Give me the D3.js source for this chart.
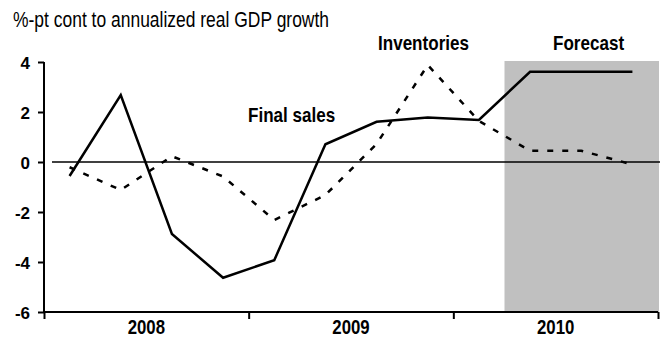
<!DOCTYPE html>
<html>
<head>
<meta charset="utf-8">
<script src="https://cdn.jsdelivr.net/npm/d3@7/dist/d3.min.js"></script>
<style>
  html, body { margin: 0; padding: 0; background: #fff; }
  svg { display: block; font-family: "Liberation Sans", Arial, sans-serif; }
</style>
</head>
<body>
<svg id="chart" width="661" height="339"></svg>
<script>
// Quarterly contributions, 2008 Q1 – 2010 Q4 (%-pt, annualized)
const quarters = ["2008Q1","2008Q2","2008Q3","2008Q4","2009Q1","2009Q2","2009Q3","2009Q4","2010Q1","2010Q2","2010Q3","2010Q4"];
const finalSales = [-0.56, 2.68, -2.88, -4.63, -3.93, 0.71, 1.61, 1.78, 1.68, 3.61, 3.61, 3.61];
const inventories = [-0.21, -1.12, 0.23, -0.58, -2.32, -1.32, 0.72, 3.88, 1.64, 0.45, 0.45, -0.1];
const years = ["2008", "2009", "2010"];
const yTicks = [4, 2, 0, -2, -4, -6];
const forecastStart = 9; // index of first forecast quarter

const svg = d3.select("#chart");
const NARROW = 0.82; // horizontal squeeze to get a condensed face

const x = d3.scaleLinear().domain([0, quarters.length]).range([44, 658]);
const y = d3.scaleLinear().domain([-6, 4]).range([312, 62]);
const xq = i => x(i + 0.5);

// Condensed text placed at (px, py)
function narrowText(sel, px, py) {
  return sel.attr("x", 0).attr("y", 0)
    .attr("transform", (d, i) => {
      const tx = typeof px === "function" ? px(d, i) : px;
      const ty = typeof py === "function" ? py(d, i) : py;
      return `translate(${tx},${ty}) scale(${NARROW},1)`;
    });
}

// Forecast shading
svg.append("rect")
  .attr("x", x(forecastStart))
  .attr("y", y(4) - 1)
  .attr("width", x(quarters.length) - x(forecastStart) + 1)
  .attr("height", y(-6) - y(4) + 1)
  .attr("fill", "#c0c0c0");

// Zero line
svg.append("line")
  .attr("x1", x(0) + 8).attr("x2", x(quarters.length) + 2)
  .attr("y1", y(0)).attr("y2", y(0))
  .attr("stroke", "#000").attr("stroke-width", 1.5);

// Y axis (plain hyphen for negatives)
const yAxis = d3.axisLeft(y).tickValues(yTicks).tickSize(6).tickPadding(8).tickFormat(d => String(d));
const gy = svg.append("g").attr("transform", `translate(${x(0)},0)`).call(yAxis);
gy.select(".domain").attr("stroke-width", 2).attr("d", `M0,${y(4)}V${y(-6)}`);
gy.selectAll(".tick line").attr("stroke-width", 2);
gy.selectAll(".tick text")
  .attr("font-family", "Liberation Sans, Arial, sans-serif")
  .attr("font-size", 17).attr("font-weight", "bold").attr("fill", "#000")
  .attr("dy", "0.36em");

// X axis with year boundaries
const xAxis = d3.axisBottom(x).tickValues([0, 4, 8, 12]).tickSize(7).tickFormat("");
const gx = svg.append("g").attr("transform", `translate(0,${y(-6)})`).call(xAxis);
gx.select(".domain").attr("stroke-width", 2).attr("d", `M${x(0)},0H${x(12)}`);
gx.selectAll(".tick line").attr("stroke-width", 2);

svg.append("g").selectAll("text").data(years).join("text")
  .call(narrowText, (d, i) => x(i * 4 + 2), 334)
  .attr("text-anchor", "middle")
  .attr("font-size", 20.5).attr("font-weight", "bold")
  .text(d => d);

// Series lines
const line = d3.line().x((d, i) => xq(i)).y(d => y(d));

svg.append("path").datum(inventories)
  .attr("d", line).attr("fill", "none")
  .attr("stroke", "#000").attr("stroke-width", 2.5)
  .attr("stroke-dasharray", "6,9");

svg.append("path").datum(finalSales)
  .attr("d", line).attr("fill", "none")
  .attr("stroke", "#000").attr("stroke-width", 2.5)
  .attr("stroke-linejoin", "miter");

// Title and labels
svg.append("text")
  .call(narrowText, 13, 26.5)
  .attr("font-size", 21.3).text("%-pt cont to annualized real GDP growth");

const labels = [
  { text: "Final sales", x: 248, y: 121.5 },
  { text: "Inventories", x: 378, y: 50 },
  { text: "Forecast", x: 553, y: 50 }
];
svg.append("g").selectAll("text").data(labels).join("text")
  .call(narrowText, d => d.x, d => d.y)
  .attr("font-size", 20.8).attr("font-weight", "bold")
  .text(d => d.text);
</script>
</body>
</html>
